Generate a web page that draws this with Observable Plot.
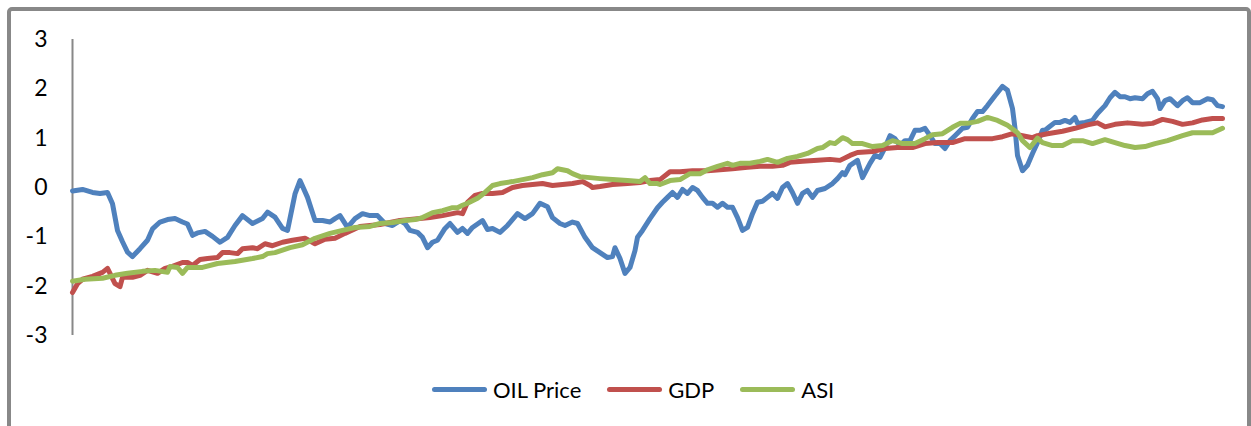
<!DOCTYPE html>
<html>
<head>
<meta charset="utf-8">
<script src="https://cdn.jsdelivr.net/npm/d3@7"></script>
<script src="https://cdn.jsdelivr.net/npm/@observablehq/plot@0.6"></script>
<style>
  body { margin: 0; background: #fff; }
  #wrap { position: relative; width: 1251px; height: 426px; overflow: hidden; background: #fff; font-family: Lato, "Liberation Sans", sans-serif; }
  #box { position: absolute; left: 7px; top: 7px; width: 1236px; height: 520px; border: 4px solid #888; border-radius: 5px; }
  #chart { position: absolute; left: 0; top: 0; }
  #legend { position: absolute; left: 432px; top: 376px; display: flex; align-items: center; font-size: 22px; color: #000; }
  .item { display: flex; align-items: center; margin-right: 26px; }
  .swatch { width: 55px; height: 5px; border-radius: 3px; margin-right: 6px; }
</style>
</head>
<body>
<div id="wrap">
  <div id="box"></div>
  <div id="chart"></div>
  <div id="legend"></div>
</div>
<script>
// Series names and colours
const seriesNames = ["OIL Price", "GDP", "ASI"];
const seriesColors = ["#4F81BD", "#C0504D", "#9BBB59"];
const yTicks = [-3, -2, -1, 0, 1, 2, 3];

// [period, standardised value]
const oilPrice = [
  [0,-0.07],[4,-0.04],[8,-0.1],[11,-0.12],[14,-0.1],[16,-0.33],[18,-0.87],[20,-1.1],[22,-1.31],[24,-1.4],
  [27,-1.24],[30,-1.07],[32,-0.84],[35,-0.7],[38,-0.65],[41,-0.63],[44,-0.7],[46,-0.74],[48,-0.97],[50,-0.92],
  [53,-0.89],[56,-0.99],[59,-1.11],[62,-1.01],[65,-0.77],[68,-0.57],[72,-0.73],[76,-0.63],[78,-0.5],[81,-0.6],
  [84,-0.83],[86,-0.87],[89,-0.13],[91,0.14],[94,-0.2],[97,-0.67],[100,-0.67],[103,-0.7],[105,-0.63],[107,-0.57],
  [110,-0.81],[113,-0.63],[116,-0.53],[119,-0.57],[122,-0.57],[125,-0.73],[128,-0.77],[131,-0.67],[133,-0.73],[135,-0.87],
  [138,-0.91],[140,-1.01],[142,-1.22],[144,-1.11],[146,-1.07],[149,-0.83],[151,-0.73],[154,-0.91],[156,-0.83],[158,-0.93],
  [160,-0.81],[164,-0.67],[166,-0.85],[168,-0.83],[171,-0.91],[174,-0.77],[178,-0.53],[181,-0.63],[184,-0.53],[187,-0.32],
  [190,-0.39],[192,-0.61],[195,-0.73],[197,-0.77],[200,-0.7],[202,-0.73],[205,-1.01],[208,-1.22],[211,-1.32],[214,-1.42],
  [216,-1.4],[217,-1.22],[219,-1.44],[221,-1.74],[223,-1.62],[225,-1.28],[226,-1.01],[228,-0.87],[231,-0.63],[234,-0.41],
  [236,-0.3],[238,-0.2],[240,-0.1],[242,-0.2],[244,-0.04],[246,-0.12],[248,0],[250,-0.06],[252,-0.2],[254,-0.32],
  [256,-0.32],[258,-0.4],[260,-0.32],[262,-0.4],[264,-0.4],[266,-0.61],[268,-0.87],[270,-0.81],[272,-0.53],[274,-0.3],
  [276,-0.28],[278,-0.2],[280,-0.12],[282,-0.22],[284,0],[286,0.08],[288,-0.1],[290,-0.32],[292,-0.12],[294,-0.06],
  [296,-0.2],[298,-0.06],[301,-0.02],[304,0.08],[306,0.18],[308,0.3],[309,0.26],[311,0.45],[314,0.55],[316,0.2],
  [319,0.49],[321,0.65],[323,0.61],[325,0.81],[327,1.05],[329,0.99],[331,0.85],[333,0.95],[335,0.95],[337,1.16],
  [339,1.16],[341,1.2],[343,1.05],[345,0.89],[347,0.89],[349,0.79],[351,0.95],[353,1.05],[356,1.2],[358,1.22],
  [360,1.4],[362,1.54],[364,1.54],[366,1.66],[369,1.86],[372,2.05],[374,1.97],[376,1.6],[377,1.2],[378,0.65],
  [380,0.34],[382,0.45],[384,0.69],[386,0.91],[388,1.16],[389,1.16],[391,1.24],[393,1.32],[395,1.32],[397,1.36],
  [399,1.32],[401,1.42],[402,1.3],[405,1.32],[408,1.36],[410,1.5],[413,1.66],[415,1.82],[417,1.93],[419,1.84],
  [421,1.84],[423,1.8],[425,1.82],[428,1.8],[430,1.9],[432,1.95],[434,1.8],[435,1.6],[437,1.76],[439,1.8],
  [442,1.66],[444,1.76],[446,1.82],[448,1.72],[451,1.72],[454,1.8],[456,1.78],[458,1.66],[460,1.64]
];

const gdp = [
  [0,-2.13],[2,-1.95],[4,-1.86],[8,-1.8],[12,-1.72],[14,-1.64],[15,-1.74],[17,-1.95],[19,-2.01],[20,-1.82],
  [24,-1.82],[27,-1.78],[30,-1.68],[34,-1.74],[37,-1.64],[40,-1.6],[44,-1.52],[46,-1.52],[48,-1.58],[51,-1.46],
  [54,-1.44],[58,-1.42],[60,-1.32],[63,-1.32],[66,-1.34],[68,-1.24],[72,-1.22],[74,-1.24],[77,-1.14],[80,-1.18],
  [84,-1.11],[88,-1.07],[93,-1.03],[97,-1.14],[101,-1.05],[105,-1.03],[109,-0.93],[115,-0.79],[119,-0.77],[123,-0.75],
  [127,-0.71],[131,-0.67],[135,-0.65],[139,-0.63],[143,-0.61],[148,-0.57],[152,-0.53],[154,-0.51],[156,-0.53],[158,-0.3],
  [161,-0.16],[164,-0.12],[168,-0.12],[172,-0.1],[176,0],[180,0.04],[184,0.06],[188,0.08],[192,0.04],[196,0.06],
  [200,0.08],[204,0.12],[207,0.04],[208,0],[211,0.02],[216,0.06],[222,0.08],[227,0.1],[231,0.14],[235,0.16],
  [239,0.32],[243,0.32],[248,0.34],[254,0.34],[259,0.36],[264,0.38],[270,0.41],[275,0.43],[280,0.43],[284,0.45],
  [287,0.51],[292,0.53],[298,0.55],[303,0.57],[307,0.55],[311,0.65],[314,0.71],[320,0.73],[325,0.79],[330,0.81],
  [336,0.81],[341,0.89],[346,0.91],[352,0.91],[357,0.99],[362,0.99],[368,0.99],[372,1.03],[376,1.09],[380,1.05],
  [384,1.01],[386,1.05],[390,1.09],[396,1.14],[401,1.2],[406,1.27],[410,1.31],[413,1.23],[417,1.28],[422,1.31],
  [428,1.28],[432,1.3],[436,1.38],[440,1.34],[444,1.28],[448,1.31],[452,1.37],[456,1.4],[460,1.4]
];

const asi = [
  [0,-1.9],[5,-1.86],[12,-1.84],[17,-1.78],[22,-1.74],[28,-1.7],[33,-1.68],[38,-1.72],[39,-1.6],[42,-1.62],
  [44,-1.74],[46,-1.62],[52,-1.62],[58,-1.54],[65,-1.5],[72,-1.44],[76,-1.4],[78,-1.34],[81,-1.32],[87,-1.22],
  [92,-1.16],[97,-1.03],[103,-0.93],[108,-0.87],[113,-0.81],[119,-0.79],[123,-0.73],[128,-0.71],[133,-0.67],[137,-0.65],
  [140,-0.61],[144,-0.51],[148,-0.47],[152,-0.41],[154,-0.41],[156,-0.36],[158,-0.32],[162,-0.22],[165,-0.1],[168,0.04],
  [171,0.08],[176,0.12],[180,0.16],[184,0.2],[188,0.26],[192,0.3],[194,0.38],[198,0.34],[200,0.28],[203,0.22],
  [207,0.2],[211,0.18],[216,0.16],[222,0.14],[227,0.12],[229,0.2],[231,0.08],[234,0.08],[235,0.06],[239,0.14],
  [243,0.16],[247,0.28],[251,0.28],[254,0.36],[258,0.43],[262,0.49],[264,0.45],[267,0.49],[271,0.49],[275,0.53],
  [278,0.57],[282,0.51],[286,0.59],[290,0.63],[294,0.69],[298,0.79],[300,0.81],[303,0.91],[305,0.89],[308,1.01],
  [310,0.97],[312,0.89],[316,0.89],[320,0.83],[324,0.85],[328,0.95],[332,0.89],[337,0.89],[341,0.99],[344,1.07],
  [348,1.09],[352,1.22],[355,1.3],[358,1.3],[362,1.34],[366,1.42],[370,1.36],[374,1.26],[378,1.11],[380,0.95],
  [383,0.81],[386,1.0],[388,0.91],[392,0.85],[396,0.85],[400,0.95],[404,0.95],[408,0.89],[413,0.97],[417,0.91],
  [421,0.85],[425,0.81],[429,0.83],[433,0.89],[438,0.95],[444,1.05],[448,1.11],[452,1.11],[456,1.11],[460,1.2]
];

const rows = [oilPrice, gdp, asi].flatMap((s, i) =>
  s.map(([t, v]) => ({series: seriesNames[i], t, v}))
);

const chart = Plot.plot({
  width: 1251,
  height: 360,
  marginLeft: 72,
  marginRight: 29,
  marginTop: 39,
  marginBottom: 25,
  style: {background: "transparent", fontFamily: "Lato, 'Liberation Sans', sans-serif"},
  x: {domain: [0, 460], axis: null},
  y: {domain: [-3, 3], axis: null},
  color: {domain: seriesNames, range: seriesColors},
  marks: [
    Plot.ruleX([0], {stroke: "#888", strokeWidth: 2}),
    Plot.axisY(yTicks, {
      label: null,
      tickSize: 0,
      tickPadding: 25,
      fontSize: 23,
      fill: "#000",
      tickFormat: d => (d < 0 ? "-" + Math.abs(d) : String(d))
    }),
    Plot.line(rows, {
      x: "t",
      y: "v",
      z: "series",
      stroke: "series",
      strokeWidth: 5,
      strokeLinejoin: "round",
      strokeLinecap: "round"
    })
  ]
});
document.getElementById("chart").appendChild(chart);

// Legend below the plot
const legend = document.getElementById("legend");
seriesNames.forEach((name, i) => {
  const item = document.createElement("div");
  item.className = "item";
  const sw = document.createElement("div");
  sw.className = "swatch";
  sw.style.background = seriesColors[i];
  const label = document.createElement("span");
  label.textContent = name;
  item.appendChild(sw);
  item.appendChild(label);
  legend.appendChild(item);
});
</script>
</body>
</html>
